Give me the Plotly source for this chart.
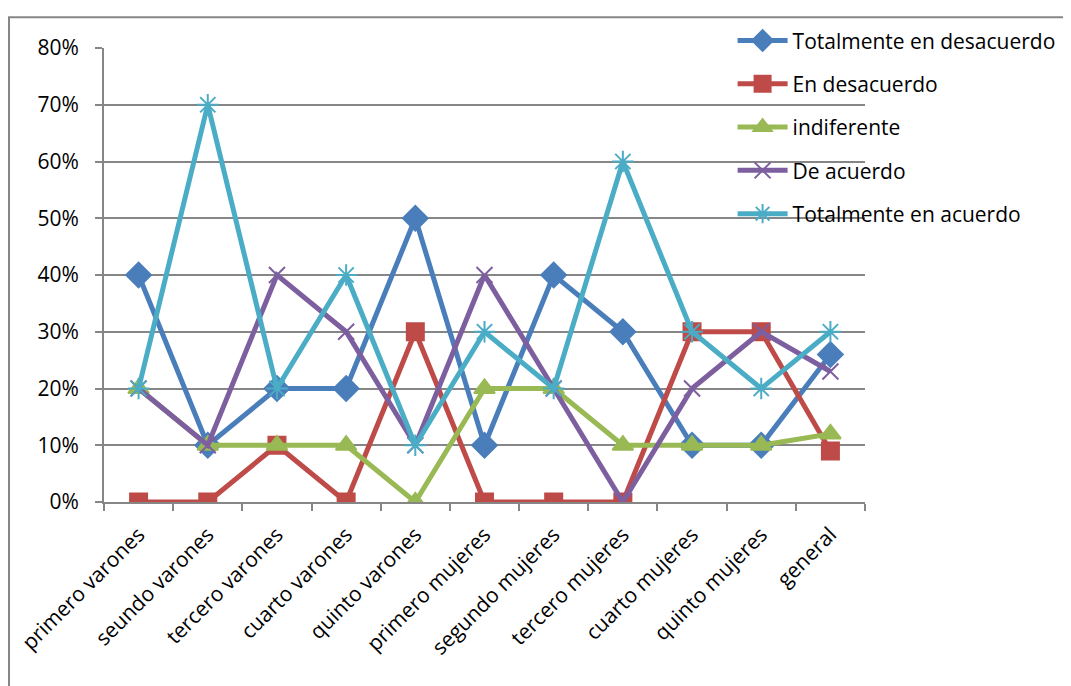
import plotly.graph_objects as go

categories = [
    "primero varones", "seundo varones", "tercero varones", "cuarto varones",
    "quinto varones", "primero mujeres", "segundo mujeres", "tercero mujeres",
    "cuarto mujeres", "quinto mujeres", "general",
]
tot_desacuerdo = [0.40, 0.10, 0.20, 0.20, 0.50, 0.10, 0.40, 0.30, 0.10, 0.10, 0.26]
en_desacuerdo = [0.00, 0.00, 0.10, 0.00, 0.30, 0.00, 0.00, 0.00, 0.30, 0.30, 0.09]
indiferente = [0.20, 0.10, 0.10, 0.10, 0.00, 0.20, 0.20, 0.10, 0.10, 0.10, 0.12]
de_acuerdo = [0.20, 0.10, 0.40, 0.30, 0.10, 0.40, 0.20, 0.00, 0.20, 0.30, 0.23]
tot_acuerdo = [0.20, 0.70, 0.20, 0.40, 0.10, 0.30, 0.20, 0.60, 0.30, 0.20, 0.30]

series = [
    ("Totalmente en desacuerdo", tot_desacuerdo, "#4A7EBB", "diamond", 19),
    ("En desacuerdo", en_desacuerdo, "#BE4B48", "square", 17),
    ("indiferente", indiferente, "#98B954", "triangle-up", 18),
    ("De acuerdo", de_acuerdo, "#7D5FA0", "x-thin-open", 16),
    ("Totalmente en acuerdo", tot_acuerdo, "#4BACC6", "asterisk-open", 18),
]

FONT = "Open Sans"

fig = go.Figure()
for i, (name, vals, color, sym, size) in enumerate(series):
    fig.add_trace(
        go.Scatter(
            x=categories,
            y=vals,
            name=name,
            mode="lines+markers",
            line=dict(color=color, width=5),
            marker=dict(symbol=sym, size=size, color=color,
                        line=dict(color=color, width=2)),
            legendgroup=f"g{i}",
        )
    )

# outer frame like the Excel chart area
fig.add_shape(
    type="rect", xref="paper", yref="paper",
    x0=-0.1248, x1=1.276, y0=-0.42, y1=1.0677,
    line=dict(color="#868686", width=2), fillcolor="rgba(0,0,0,0)",
)

fig.update_layout(
    width=1071,
    height=686,
    margin=dict(l=96, r=214, t=36, b=192),
    plot_bgcolor="white",
    paper_bgcolor="white",
    font=dict(family=FONT, size=21, color="black"),
    showlegend=True,
    legend=dict(
        x=0.826, y=1.061, xanchor="left", yanchor="top",
        bgcolor="rgba(0,0,0,0)",
        font=dict(size=21, family=FONT),
        traceorder="grouped",
        tracegroupgap=13,
        itemwidth=50,
    ),
    xaxis=dict(
        type="category",
        range=[-0.5, len(categories) - 0.5],
        automargin=False,
        tickson="boundaries",
        ticks="outside",
        ticklen=7,
        tickcolor="#868686",
        tickwidth=2,
        showline=True,
        linecolor="#868686",
        linewidth=2,
        showgrid=False,
        tickangle=-45,
        ticklabelstandoff=10,
        tickfont=dict(size=21),
    ),
    yaxis=dict(
        automargin=False,
        range=[0, 0.8],
        dtick=0.1,
        tickformat=".0%",
        ticks="outside",
        ticklen=7,
        tickcolor="#868686",
        tickwidth=2,
        showline=True,
        linecolor="#868686",
        linewidth=2,
        showgrid=True,
        gridcolor="#868686",
        gridwidth=2,
        zeroline=False,
        ticklabelstandoff=12,
        tickfont=dict(size=21),
    ),
)

fig.write_html("out.html")
